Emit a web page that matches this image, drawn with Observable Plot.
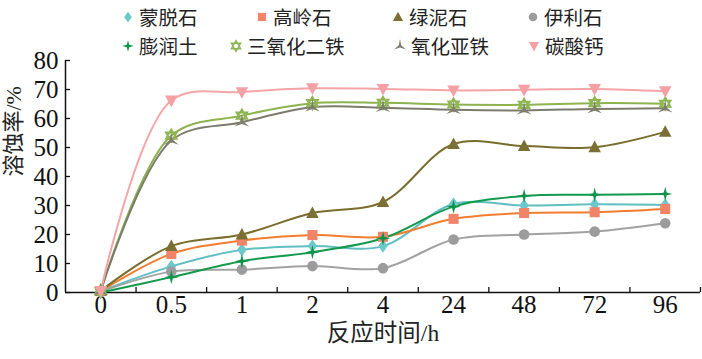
<!DOCTYPE html>
<html><head><meta charset="utf-8">
<script src="https://cdn.jsdelivr.net/npm/d3@7"></script>
<script src="https://cdn.jsdelivr.net/npm/@observablehq/plot@0.6"></script>
<style>
body{margin:0;background:#fff;}
#wrap{position:relative;width:702px;height:359px;overflow:hidden;}
#legend{position:absolute;left:0;top:0;width:702px;height:58px;font-family:'Noto Sans CJK SC',sans-serif;font-size:19.5px;color:#222;}
.item{position:absolute;display:flex;align-items:center;height:22px;line-height:22px;white-space:nowrap;}
.item span{line-height:22px;display:inline-block;height:22px;}
.item svg{margin-right:5px;overflow:visible;}
</style>
</head><body>
<div id="wrap"><div id="chart"></div><div id="legend"></div></div>
<script>
// categories (reaction time, h)
const times = ["0","0.5","1","2","4","24","48","72","96"];
const yTicks = [0,10,20,30,40,50,60,70,80];
// series values (溶蚀率 %)
const mengtuoshi   = [0.5, 9.0, 14.7, 16.0, 16.0, 30.5, 30.0, 30.4, 30.2];
const gaolingshi   = [0.5, 13.3, 17.9, 19.8, 19.2, 25.4, 27.4, 27.7, 28.8];
const lvnishi      = [0.6, 16.0, 20.0, 27.4, 31.2, 51.2, 50.5, 50.1, 55.4];
const yilishi      = [0.3, 7.2, 7.9, 9.1, 8.4, 18.3, 20.0, 21.0, 23.9];
const pengruntu    = [0.0, 5.3, 10.8, 13.9, 18.7, 29.6, 33.3, 33.7, 34.0];
const sanyanghua   = [0.5, 54.1, 61.0, 65.3, 65.4, 64.8, 64.7, 65.3, 65.1];
const yanghuaya    = [0.5, 52.4, 58.7, 63.9, 63.7, 63.0, 62.8, 63.3, 63.5];
const tansuangai   = [0.5, 66.2, 69.1, 70.4, 70.2, 69.7, 69.9, 70.2, 69.4];
const names = ["蒙脱石","高岭石","绿泥石","伊利石","膨润土","三氧化二铁","氧化亚铁","碳酸钙"];
const valuesList = [mengtuoshi, gaolingshi, lvnishi, yilishi, pengruntu, sanyanghua, yanghuaya, tansuangai];

// custom symbols
const S = (size) => Math.sqrt(size / Math.PI);
const diamond = {draw(c, size){const r=S(size)*1.25, w=r*0.72; c.moveTo(0,-r); c.lineTo(w,0); c.lineTo(0,r); c.lineTo(-w,0); c.closePath();}};
const square = {draw(c, size){const r=S(size)*0.95; c.rect(-r,-r,2*r,2*r);}};
const triUp = {draw(c, size){const r=S(size)*1.25; c.moveTo(0,-r); c.lineTo(r*0.95,r*0.75); c.lineTo(-r*0.95,r*0.75); c.closePath();}};
const triDown = {draw(c, size){const r=S(size)*1.25; c.moveTo(0,r); c.lineTo(r*0.95,-r*0.75); c.lineTo(-r*0.95,-r*0.75); c.closePath();}};
const circle = {draw(c, size){const r=S(size); c.moveTo(r,0); c.arc(0,0,r,0,2*Math.PI);}};
const star4 = {draw(c, size){const r=S(size)*1.35, w=r*0.2; c.moveTo(0,-r); c.lineTo(w,-w); c.lineTo(r,0); c.lineTo(w,w); c.lineTo(0,r); c.lineTo(-w,w); c.lineTo(-r,0); c.lineTo(-w,-w); c.closePath();}};
const hexagram = {draw(c, size){const r=S(size)*1.25; for (const a0 of [-90, 90]) { for (let k=0;k<3;k++){ const a=(a0+120*k)*Math.PI/180; const px=r*Math.cos(a), py=r*Math.sin(a); k? c.lineTo(px,py) : c.moveTo(px,py);} c.closePath(); }}};
const wye3 = {draw(c, size){const r=S(size)*1.6, w=r*0.2; for (let k=0;k<3;k++){ const a=(-90+120*k)*Math.PI/180, b=(-30+120*k)*Math.PI/180; const ox=r*Math.cos(a), oy=r*Math.sin(a); k? c.lineTo(ox,oy) : c.moveTo(ox,oy); c.lineTo(w*Math.cos(b), w*Math.sin(b)); } c.closePath();}};

const styles = [
  {line:"#5fbfc2", mark:"#6cc8ca", symbol:diamond, hollow:false},
  {line:"#f27d2e", mark:"#f08468", symbol:square, hollow:false},
  {line:"#7a6d2c", mark:"#7b7034", symbol:triUp, hollow:false},
  {line:"#a2a2a2", mark:"#9c9c9c", symbol:circle, hollow:false},
  {line:"#129a4c", mark:"#0e944a", symbol:star4, hollow:false},
  {line:"#8cb34f", mark:"#8db552", symbol:hexagram, hollow:true},
  {line:"#7d7b6c", mark:"#7f7e70", symbol:wye3, hollow:false},
  {line:"#f5a5a6", mark:"#f4a0a5", symbol:triDown, hollow:false}
];

const series = names.map((name, k) => ({name, style: styles[k], data: valuesList[k].map((v, i) => ({i, v}))}));

const marks = [];
for (const s of series) {
  marks.push(Plot.line(s.data, {x:"i", y:"v", stroke:s.style.line, strokeWidth:2, curve:"catmull-rom"}));
}
for (const s of series) {
  marks.push(Plot.dot(s.data, s.style.hollow
    ? {x:"i", y:"v", symbol:s.style.symbol, r:5, fill:"white", fillOpacity:0, stroke:s.style.mark, strokeWidth:1.8}
    : {x:"i", y:"v", symbol:s.style.symbol, r:5.3, fill:s.style.mark, stroke:"none"}));
}

const chart = Plot.plot({
  width: 702, height: 359,
  marginLeft: 65, marginRight: 2, marginTop: 60, marginBottom: 67,
  style: {fontFamily: "'Liberation Serif','Noto Sans CJK SC',serif", fontSize: "25px", color: "#111", background: "transparent", overflow: "visible"},
  x: {domain: [-0.5, times.length - 0.5], axis: null},
  y: {domain: [0, 80], axis: null},
  marks: [
    Plot.axisY({ticks: yTicks, tickSize: -5, tickFormat: () => "", label: null, strokeWidth: 1.3}),
    Plot.axisY({ticks: yTicks, tickSize: 0, tickPadding: 7, label: null}),
    Plot.axisX({ticks: d3.range(0.5, times.length, 1), tickSize: -5, tickFormat: () => "", label: null, strokeWidth: 1.3}),
    Plot.axisX({ticks: d3.range(0, times.length), tickSize: 0, tickPadding: 3, tickFormat: i => times[i], label: null}),
    Plot.ruleY([0], {stroke:"#111", strokeWidth:1.5}),
    Plot.ruleX([-0.5], {stroke:"#111", strokeWidth:1.5}),
    ...marks,
    Plot.text(["反应时间/h"], {frameAnchor:"bottom", dy:48, fontSize:23.5, fill:"#222"}),
    Plot.text(["溶蚀率/%"], {frameAnchor:"left", dx:-52, rotate:-90, fontSize:22, fill:"#222"})
  ]
});
document.getElementById("chart").appendChild(chart);

// legend
const legendLeft = [122, 256, 392, 527, 122, 230, 394, 528];
const legendTop = [6, 6, 6, 6, 35, 35, 35, 35];
const legend = d3.select("#legend");
series.forEach((s, k) => {
  const item = legend.append("div").attr("class","item").style("left", legendLeft[k]+"px").style("top", legendTop[k]+"px");
  const svg = item.append("svg").attr("width",12).attr("height",12).attr("viewBox","-6 -6 12 12");
  const p = d3.path(); s.style.symbol.draw(p, Math.PI*4.3*4.3);
  svg.append("path").attr("d", p.toString())
    .attr("fill", s.style.hollow ? "none" : s.style.mark)
    .attr("stroke", s.style.hollow ? s.style.mark : "none")
    .attr("stroke-width", 1.4);
  item.append("span").text(s.name);
});
</script>
</body></html>
